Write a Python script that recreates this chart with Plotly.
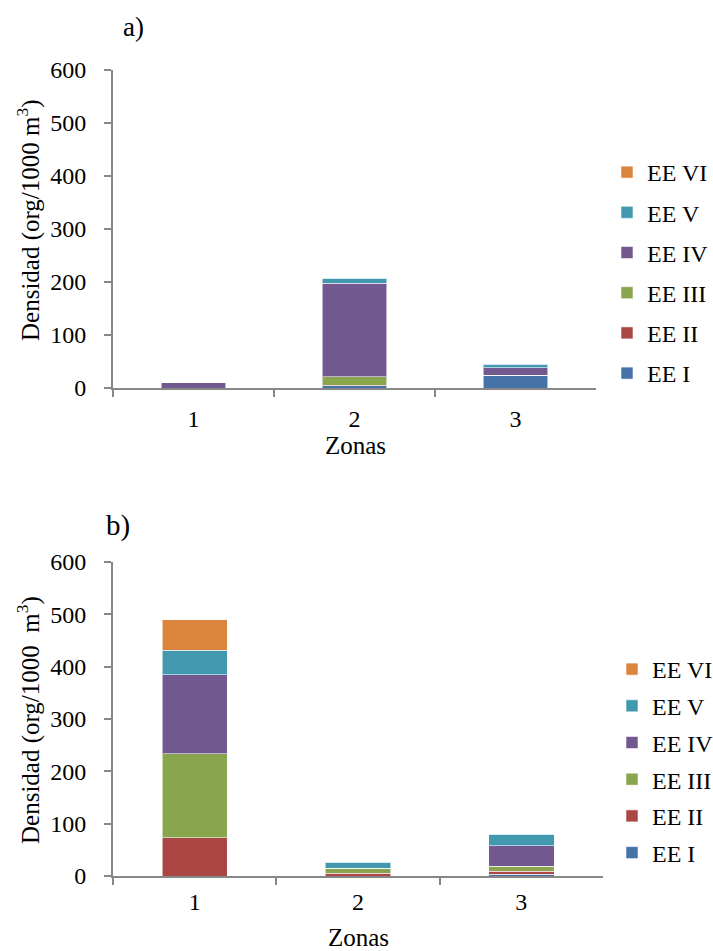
import plotly.graph_objects as go

zones = ["1", "2", "3"]
series = ["EE I", "EE II", "EE III", "EE IV", "EE V", "EE VI"]
colors = ["#4572A7", "#AA4643", "#89A54E", "#71588F", "#4198AF", "#DB843D"]

# Panel a)
a_ee1 = [0, 4, 24]
a_ee2 = [0, 1, 0]
a_ee3 = [0, 16, 0]
a_ee4 = [10, 177, 14]
a_ee5 = [0, 9, 7]
a_ee6 = [0, 0, 0]

# Panel b)
b_ee1 = [0, 0, 3]
b_ee2 = [73, 5, 6]
b_ee3 = [161, 10, 10]
b_ee4 = [151, 0, 39]
b_ee5 = [46, 11, 22]
b_ee6 = [59, 0, 0]

a_vals = [a_ee1, a_ee2, a_ee3, a_ee4, a_ee5, a_ee6]
b_vals = [b_ee1, b_ee2, b_ee3, b_ee4, b_ee5, b_ee6]

FONT = "Liberation Serif, Times New Roman, DejaVu Serif, serif"
AX = "#878787"

fig = go.Figure()
for i, name in enumerate(series):
    fig.add_trace(go.Bar(x=zones, y=a_vals[i], name=name, marker_color=colors[i],
                         marker_line=dict(color="rgba(255,255,255,0.55)", width=1),
                         width=0.4, xaxis="x", yaxis="y", legend="legend",
                         legendgroup="a" + str(i), legendrank=100 - i))
for i, name in enumerate(series):
    fig.add_trace(go.Bar(x=zones, y=b_vals[i], name=name, marker_color=colors[i],
                         marker_line=dict(color="rgba(255,255,255,0.55)", width=1),
                         width=0.4, xaxis="x2", yaxis="y2", legend="legend2",
                         legendgroup="b" + str(i), legendrank=100 - i))

W, H = 713, 951

def px(x):
    return x / W

def py(y):
    return 1 - y / H

TICK = 24
xcommon = dict(type="category", showline=True, linecolor=AX, linewidth=2,
               ticks="outside", tickson="boundaries", ticklen=7, tickcolor=AX,
               tickwidth=1.5, showgrid=False, zeroline=False,
               tickfont=dict(family=FONT, size=TICK, color="black"), automargin=False)
ycommon = dict(range=[0, 600], dtick=100, showline=True, linecolor=AX, linewidth=2,
               ticks="outside", ticklen=7, tickcolor=AX, tickwidth=1.5,
               showgrid=False, zeroline=False, ticklabelstandoff=13,
               tickfont=dict(family=FONT, size=TICK, color="black"), automargin=False)

legcommon = dict(font=dict(family=FONT, size=24, color="black"), traceorder="grouped",
                 xanchor="left", yanchor="top", bgcolor="rgba(0,0,0,0)",
                 itemclick=False)


def ann(text, x, y, size, angle=0):
    return dict(text=text, x=px(x), y=py(y), xref="paper", yref="paper", showarrow=False,
                xanchor="center", yanchor="middle", textangle=angle,
                font=dict(family=FONT, size=size, color="black"))


fig.update_layout(
    width=W, height=H, margin=dict(l=0, r=0, t=0, b=0, autoexpand=False),
    paper_bgcolor="white", plot_bgcolor="white",
    barmode="stack",
    font=dict(family=FONT),
    xaxis=dict(domain=[px(113), px(596)], anchor="y", ticklabelstandoff=8, **xcommon),
    yaxis=dict(domain=[py(388), py(70)], anchor="x", **ycommon),
    xaxis2=dict(domain=[px(113), px(603)], anchor="y2", ticklabelstandoff=3, **xcommon),
    yaxis2=dict(domain=[py(876), py(562)], anchor="x2", **ycommon),
    legend=dict(x=px(607), y=py(150), tracegroupgap=6, **legcommon),
    legend2=dict(x=px(612), y=py(647), tracegroupgap=2.5, **legcommon),
    annotations=[
        ann("a)", 133, 27, 27),
        ann("b)", 118, 525, 29),
        ann("Zonas", 355, 445, 25),
        ann("Zonas", 358, 937, 25),
        ann("Densidad (org/1000 m<sup>3</sup>)", 28, 220, 25, -90),
        ann("Densidad (org/1000  m<sup>3</sup>)", 28, 720, 25, -90),
    ],
)

fig.write_html("out.html")
